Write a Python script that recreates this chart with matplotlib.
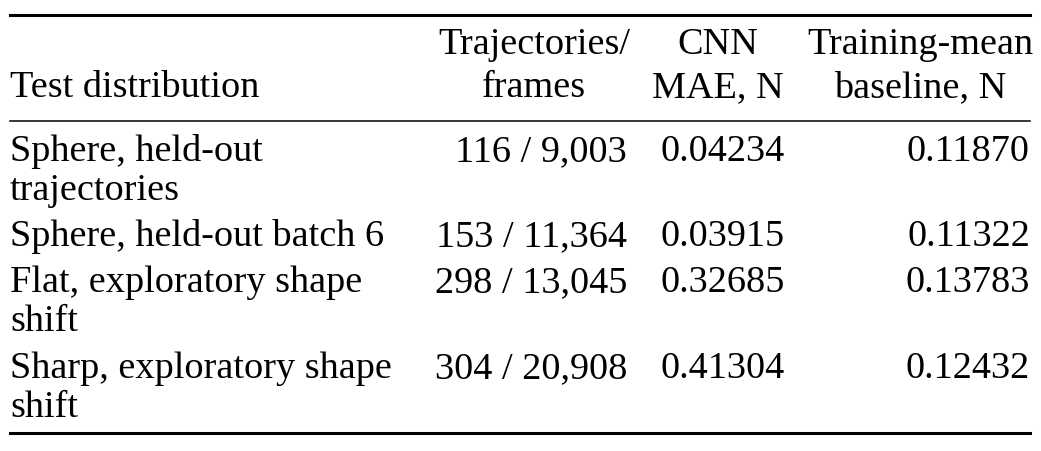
import matplotlib
matplotlib.use("Agg")
import matplotlib.pyplot as plt

plt.rcParams['font.family'] = ['Liberation Serif', 'DejaVu Serif']

headers = [["Test distribution"], ["Trajectories/", "frames"], ["CNN", "MAE, N"], ["Training-mean", "baseline, N"]]
dist = [["Sphere, held-out", "trajectories"], ["Sphere, held-out batch 6"],
        ["Flat, exploratory shape", "shift"], ["Sharp, exploratory shape", "shift"]]
traj = ["116 / 9,003", "153 / 11,364", "298 / 13,045", "304 / 20,908"]
cnn = ["0.04234", "0.03915", "0.32685", "0.41304"]
base = ["0.11870", "0.11322", "0.13783", "0.12432"]

W, H = 1041, 452
fig = plt.figure(figsize=(W/100, H/100), dpi=100)
ax = fig.add_axes([0, 0, 1, 1])
ax.set_xlim(0, W); ax.set_ylim(H, 0); ax.axis('off')
fs = 27.5
ax.plot([10, 1030], [16, 16], color='black', lw=2.2)
ax.plot([10, 1030], [122, 122], color='black', lw=1.1)
ax.plot([10, 1030], [434, 434], color='black', lw=2.2)

ax.text(10, 88, headers[0][0], fontsize=fs, ha='left', va='center')
for cx, h in zip([534, 718, 920], headers[1:]):
    ax.text(cx, 45, h[0], fontsize=fs, ha='center', va='center')
    ax.text(cx, 88, h[1], fontsize=fs, ha='center', va='center')

row_y = [152, 237, 283, 369]
for y, d, t, c, b in zip(row_y, dist, traj, cnn, base):
    for k, line in enumerate(d):
        ax.text(10, y + k*39, line, fontsize=fs, ha='left', va='center')
    ax.text(627, y, t, fontsize=fs, ha='right', va='center')
    ax.text(660, y, c, fontsize=fs, ha='left', va='center')
    ax.text(1030, y, b, fontsize=fs, ha='right', va='center')

fig.savefig("out.png", dpi=100)
